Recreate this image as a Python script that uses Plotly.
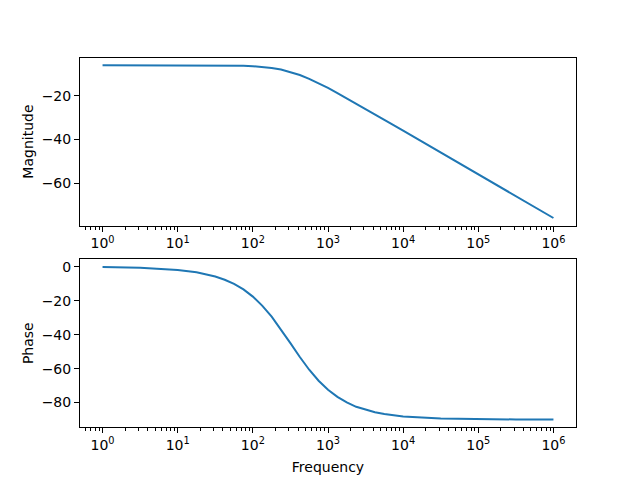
import plotly.graph_objects as go

# values
freq = [1, 3.16, 10, 17.8, 31.6, 42.2, 56.2, 75, 100, 133, 178, 237, 316,
        422, 562, 750, 1000, 1334, 1778, 2371, 3162, 4217, 5623, 10000,
        31623, 100000, 316228, 1000000]
magnitude = [-6.02, -6.02, -6.02, -6.03, -6.06, -6.10, -6.16, -6.26, -6.43,
             -6.75, -7.24, -7.96, -9.03, -10.46, -12.22, -14.24, -16.43,
             -18.75, -21.15, -23.56, -26.06, -28.52, -31.02, -36.02, -46.02,
             -56.02, -66.02, -76.02]
phase = [-0.18, -0.57, -1.81, -3.22, -5.71, -7.60, -10.08, -13.34, -17.55,
         -22.86, -29.36, -36.87, -45.0, -53.13, -60.64, -67.14, -72.45,
         -76.66, -79.92, -82.49, -84.29, -85.71, -86.78, -88.19, -89.43,
         -89.82, -89.94, -89.98]

decades = [1, 10, 100, 1000, 10000, 100000, 1000000]
decade_text = ["10<sup>%d</sup>" % i for i in range(7)]
minor_vals = [m * 10 ** e for e in range(-1, 7) for m in range(2, 10)]

font = dict(family="DejaVu Sans", size=14, color="black")

fig = go.Figure()
fig.add_trace(go.Scatter(x=freq, y=magnitude, mode="lines",
                         line=dict(color="#1f77b4", width=2),
                         xaxis="x", yaxis="y"))
fig.add_trace(go.Scatter(x=freq, y=phase, mode="lines",
                         line=dict(color="#1f77b4", width=2),
                         xaxis="x2", yaxis="y2"))

xcommon = dict(
    type="log", range=[-0.3, 6.3], tickvals=decades, ticktext=decade_text,
    showline=True, mirror=True, linecolor="black", linewidth=1,
    showgrid=False, zeroline=False, ticks="outside", ticklen=5, tickwidth=1,
    tickcolor="black", tickfont=font,
    minor=dict(tickvals=minor_vals, ticks="outside", ticklen=3, tickwidth=1,
               tickcolor="black", showgrid=False),
)
ycommon = dict(
    showline=True, mirror=True, linecolor="black", linewidth=1,
    showgrid=False, zeroline=False, ticks="outside", ticklen=5, tickwidth=1,
    tickcolor="black", tickfont=font, dtick=20,
)

# page body adds an 8px offset, domains compensate for it
fig.update_layout(
    width=640, height=480,
    margin=dict(l=0, r=0, t=0, b=0),
    plot_bgcolor="white", paper_bgcolor="white",
    showlegend=False, font=font,
    xaxis=dict(domain=[0.1125, 0.8875], anchor="y", **xcommon),
    yaxis=dict(domain=[0.5467, 0.8967], anchor="x", range=[-79.5, -2.5],
               title=dict(text="Magnitude", font=font, standoff=4), **ycommon),
    xaxis2=dict(domain=[0.1125, 0.8875], anchor="y2",
                title=dict(text="Frequency", font=font, standoff=10), **xcommon),
    yaxis2=dict(domain=[0.1267, 0.4767], anchor="x2", range=[-94.5, 4.5],
                title=dict(text="Phase", font=font, standoff=4), **ycommon),
)

fig.write_html("out.html")
